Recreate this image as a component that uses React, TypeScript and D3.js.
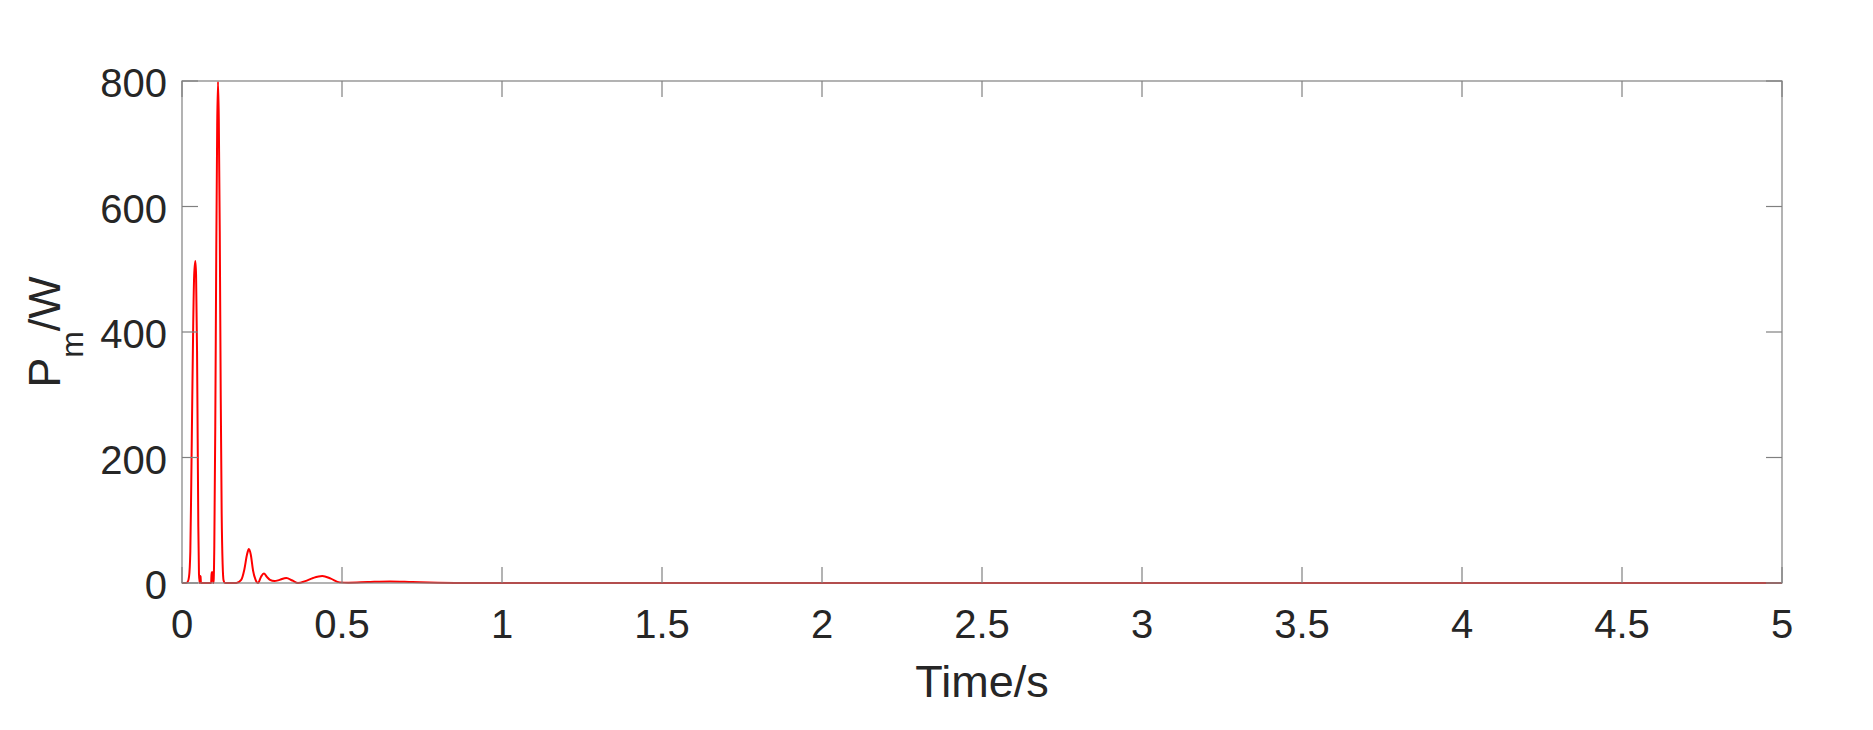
import React from 'react';
import * as d3 from 'd3';

// time samples (s) and mechanical power (W)
const times = [
  0, 0.012, 0.018, 0.022, 0.026, 0.029, 0.032, 0.035, 0.038, 0.0417, 0.044, 0.047, 0.049, 0.051, 0.053, 0.0555,
  0.0565, 0.058, 0.0592, 0.091, 0.0925, 0.096, 0.0975, 0.099, 0.101, 0.104, 0.107, 0.11, 0.1125, 0.115, 0.118, 0.121,
  0.124, 0.127, 0.13, 0.134, 0.17, 0.185, 0.195, 0.203, 0.209, 0.215, 0.222, 0.23, 0.2375, 0.247, 0.256, 0.265, 0.275,
  0.289, 0.305, 0.326, 0.345, 0.3625, 0.385, 0.41, 0.4385, 0.465, 0.493, 0.52, 0.58, 0.65, 0.72, 0.8, 0.9, 5
];
const power = [
  0, 0, 2, 10, 50, 160, 290, 410, 490, 513, 490, 370, 230, 90, 15, 0,
  11, 10, 0, 0, 17, 17, 0, 5, 60, 250, 520, 730, 799, 740, 560, 300,
  110, 30, 4, 0, 0, 5, 22, 45, 54, 45, 20, 5, 0, 10, 15, 10, 5,
  3, 5, 8, 4, 0, 3, 8, 11, 7, 1, 0.5, 1.5, 2.5, 1.5, 0.5, 0, 0
];
const xTicks = [0, 0.5, 1, 1.5, 2, 2.5, 3, 3.5, 4, 4.5, 5];
const yTicks = [0, 200, 400, 600, 800];

const W = 1873;
const H = 730;
const left = 182;
const right = 1782;
const top = 81;
const bottom = 583;
const tickLen = 16;
const font = 'Arial, "Liberation Sans", Helvetica, sans-serif';

const App = () => {
  const x = d3.scaleLinear().domain([0, 5]).range([left, right]);
  const y = d3.scaleLinear().domain([0, 800]).range([bottom, top]);

  const line = d3.line<number>()
    .x((d, i) => x(times[i]))
    .y(d => y(d))
    .curve(d3.curveMonotoneX);

  const axisColor = '#808080';
  const textColor = '#262626';

  return (
    <div style={{ position: 'absolute', left: 0, top: 0 }}>
      <svg width={W} height={H} style={{ display: 'block', background: '#fff' }}>
        {/* curve */}
        <path d={line(power) || ''} fill="none" stroke="#ff0000" strokeWidth={2} strokeLinejoin="round" />

        {/* box */}
        <rect x={left} y={top} width={right - left} height={bottom - top}
          fill="none" stroke={axisColor} strokeWidth={1.2} />

        {/* x ticks, inside on bottom and top */}
        {xTicks.map(t => (
          <g key={'x' + t}>
            <line x1={x(t)} x2={x(t)} y1={bottom} y2={bottom - tickLen} stroke={axisColor} strokeWidth={1.2} />
            <line x1={x(t)} x2={x(t)} y1={top} y2={top + tickLen} stroke={axisColor} strokeWidth={1.2} />
            <text x={x(t)} y={bottom + 41} textAnchor="middle" dominantBaseline="central"
              fontFamily={font} fontSize={40} fill={textColor}>{t}</text>
          </g>
        ))}

        {/* y ticks, inside on left and right */}
        {yTicks.map(t => (
          <g key={'y' + t}>
            <line x1={left} x2={left + tickLen} y1={y(t)} y2={y(t)} stroke={axisColor} strokeWidth={1.2} />
            <line x1={right} x2={right - tickLen} y1={y(t)} y2={y(t)} stroke={axisColor} strokeWidth={1.2} />
            <text x={left - 15} y={y(t) + 2} textAnchor="end" dominantBaseline="central"
              fontFamily={font} fontSize={40} fill={textColor}>{t}</text>
          </g>
        ))}

        {/* axis labels */}
        <text x={(left + right) / 2} y={697} textAnchor="middle"
          fontFamily={font} fontSize={45} fill={textColor}>Time/s</text>
        <text transform={`translate(60, ${(top + bottom) / 2}) rotate(-90)`} textAnchor="middle"
          fontFamily={font} fontSize={45} fill={textColor}>
          P<tspan fontSize={32} dy={23}>m</tspan><tspan dy={-23}>/W</tspan>
        </text>
      </svg>
    </div>
  );
};

export default App;
